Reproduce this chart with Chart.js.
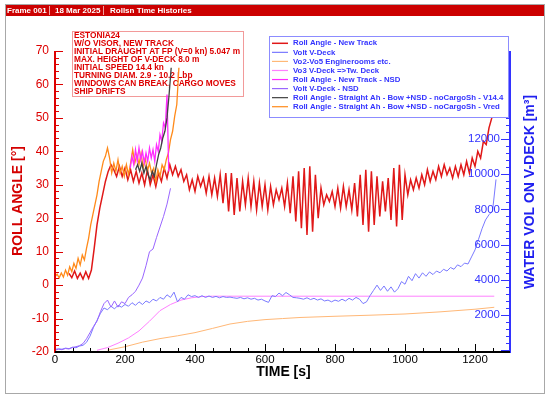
<!DOCTYPE html>
<html>
<head>
<meta charset="utf-8">
<script src="https://cdn.jsdelivr.net/npm/chart.js@4.4.0/dist/chart.umd.min.js"></script>
<style>
  html, body { margin: 0; padding: 0; background: #fff; }
  #c { display: block; }
</style>
</head>
<body>
<canvas id="c" width="550" height="399"></canvas>
<script>
/* ── Roll / water volume time histories ─────────────── */

const FONT = '"Liberation Sans", Arial, sans-serif';

// ── Data ───────────────────────────────────────────
// roll angle series (left axis, deg), sampled from t0 every dt seconds
const RED_T0 = 40, RED_DT = 8;
const rollNewTrack = [
  3.5, 2.2, 4.2, 2.0, 3.6, 1.8, 4.0, 2.0, 4.5, 11,
  18, 23, 27, 31, 34, 36, 34.5, 32.5, 35.5, 32.5,
  35, 31.5, 34.5, 31, 34, 30.5, 33.5, 30, 34.5, 30,
  33, 29.5, 33.5, 31, 35, 32, 36, 33, 35.5, 32.5,
  34.5, 31, 33, 28.5, 31.5, 28, 32.5, 29.5, 32, 27.5,
  32.5, 27, 32, 26.5, 33, 24.5, 33.5, 22, 33.5, 21,
  32, 22, 31, 24, 32, 23.5, 31, 22.5, 30.5, 23.5,
  30, 22.5, 29.5, 24, 28.5, 25.5, 29, 23.5, 30.5, 21.5,
  32.5, 19, 34, 17, 35, 15, 35.5, 16, 33, 20,
  29, 24, 27, 25, 28, 23.5, 29, 23, 29.5, 23.5,
  28.5, 22.5, 30.5, 20.5, 33, 18, 34.5, 16, 34, 18,
  32.5, 20.5, 31, 22, 32, 19.5, 35, 17.5, 36, 19.5,
  33, 27, 31.5, 28.5, 32, 29, 33, 30, 34.5, 31,
  34, 31.5, 35.5, 32.5, 36, 33, 35, 32, 35.5, 32.5,
  36, 33, 37, 33.5, 38, 35.5, 40, 38, 43, 42,
  47, 50, 54, 58
];

const VRED_T0 = 0, VRED_DT = 6;
const rollVred = [
  2.5, 3.3, 2.2, 3.6, 2.4, 4.5, 3.0, 5.5, 4.0, 6.5,
  5.0, 8.0, 6.0, 9.0, 7.5, 11, 14, 18, 21, 24,
  27, 31, 34, 37, 38.5, 41, 38, 33.5, 36.5, 34,
  37.5, 33.5, 35.5, 32.5, 36, 33, 36.5, 40.5, 36.5, 39,
  36, 39.5, 35, 38, 34, 36.5, 33.5, 35, 31, 34.5,
  32.5, 36, 34.5, 37.5, 39.5, 43.5, 46, 50.5, 54, 65
];

const V144_T0 = 230, V144_DT = 6;
const rollV144 = [
  34.5, 36, 34, 36.5, 33.5, 35.5, 33, 31.5, 34, 32.5,
  36, 39, 41, 44, 46, 50, 57, 65
];

const NSD_T0 = 215, NSD_DT = 5;
const rollNsd = [
  35, 38.5, 36, 40.5, 37, 41, 37.5, 40, 36.5, 39.5,
  37, 41, 38, 40.5, 37, 42, 40, 45, 43, 48.5,
  47, 57, 34
];

// water volume series (right axis, m3)
const VOL_T0 = 0, VOL_DT = 10;
const volVdeck = [
  50, 80, 60, 120, 90, 170, 140, 240, 280, 450,
  800, 1300, 1700, 2100, 2400, 2300, 2500, 2350, 2550, 2450,
  2600, 2500, 2700, 2550, 2750, 2600, 2800, 2700, 2900, 2800,
  3000, 2900, 3150, 3000, 3300, 2750, 3000, 2900, 3150, 3050,
  3100, 3000, 3100, 3000, 3080, 3000, 3060, 2980, 3050, 3000,
  3020, 2980, 2950, 3000, 2920, 2980, 2900, 2950, 2850, 2900,
  2800, 2720, 3100, 3050, 3250, 3100, 3280, 3150, 3000, 2980,
  2950, 2900, 2980, 2880, 2950, 2850, 2920, 2800, 2850, 2750,
  2850, 2780, 2900, 2800, 2950, 2850, 3000, 2900, 2650, 2750,
  3100, 3400, 3700, 3400, 3650, 3350, 3600, 3300, 3500, 3900,
  3750, 4200, 3950, 4350, 4100, 4400, 4200, 4450, 4300, 4500,
  4400, 4600, 4500, 4700, 4600, 4850, 4750, 4950, 4900, 5300,
  5700, 6300, 6900, 7400, 7700, 7900, 9700
];

const volVdeckNsd = [
  0, 60, 30, 100, 70, 160, 200, 260, 380, 650,
  1000, 1350, 1650, 2200, 2650, 2850, 2450, 2800, 2450, 2750,
  2650, 3000, 3150, 3350, 3700, 4100, 4800, 5600, 5750, 6400,
  7000, 7600, 8300, 9200
];

const vo3Time = [120, 150, 180, 210, 240, 270, 300, 330, 360, 390, 420, 450, 1255];
const vo3Vol  = [0, 150, 400, 700, 1100, 1650, 2250, 2600, 2850, 2980, 3050, 3070, 3070];

const engTime = [150, 200, 250, 300, 350, 400, 450, 500, 550, 600, 650, 700, 800, 900, 1000, 1100, 1200, 1255];
const engVol  = [0, 200, 460, 660, 820, 1000, 1240, 1490, 1640, 1740, 1800, 1860, 1930, 1990, 2060, 2180, 2330, 2440];

// axes
const RIGHT_TICKS = [2000, 4000, 6000, 8000, 10000, 12000, 14000, 16000];

const LEGEND_LABELS = [
  "Roll Angle - New Track",
  "Volt V-Deck",
  "Vo2-Vo5 Enginerooms etc.",
  "Vo3 V-Deck =>Tw. Deck",
  "Roll Angle - New Track - NSD",
  "Volt V-Deck - NSD",
  "Roll Angle - Straight Ah - Bow +NSD - noCargoSh - V14.4",
  "Roll Angle - Straight Ah - Bow +NSD - noCargoSh - Vred",
];

const NOTE_LINES = [
  "ESTONIA24",
  "W/O VISOR, NEW TRACK",
  "INITIAL DRAUGHT AT FP (V=0 kn) 5.047 m",
  "MAX. HEIGHT OF V-DECK 8.0 m",
  "INITIAL SPEED 14.4 kn",
  "TURNING DIAM. 2.9 - 10.2 Lbp",
  "WINDOWS CAN BREAK, CARGO MOVES",
  "SHIP DRIFTS",
];

const HEADER_PARTS = ["Frame 001", "18 Mar 2025", "Rollsn Time Histories"];

// ── Colours ────────────────────────────────────────
const C_RED = "#e01818", C_BLUE = "#7a7aff", C_LORANGE = "#ffb877", C_PINK = "#ff80ff";
const C_MAGENTA = "#ff2cff", C_PURPLE = "#9a66ff", C_BLACK = "#404040", C_ORANGE = "#ff8a1a";
const LEGEND_COLORS = [C_RED, C_BLUE, C_LORANGE, C_PINK, C_MAGENTA, C_PURPLE, C_BLACK, C_ORANGE];
const AXIS_RED = "#dd0000", AXIS_BLUE = "#3333ff";

// ── Helpers ────────────────────────────────────────
function stepped(t0, dt, vals) { return vals.map((v, i) => ({ x: t0 + i * dt, y: v })); }
function paired(ts, vals) { return vals.map((v, i) => ({ x: ts[i], y: v })); }
function ds(label, data, color, axis, width, order) {
  return { label, data, borderColor: color, backgroundColor: color, yAxisID: axis,
           borderWidth: width, pointRadius: 0, tension: 0, order };
}

// ── Decorations: frame, note box, ticks, titles, legend ──
const deco = {
  id: "deco",
  beforeDraw(chart) {
    const c = chart.ctx;
    c.save();
    c.fillStyle = "#fff"; c.fillRect(0, 0, 550, 399);
    c.strokeStyle = "#a8a8a8"; c.lineWidth = 1;
    c.strokeRect(5.5, 4.5, 539, 389);
    c.fillStyle = "#cc0000"; c.fillRect(6, 5, 538, 11);
    c.font = "bold 8px " + FONT; c.fillStyle = "#fff"; c.textBaseline = "middle";
    const hx = [7, 55, 110];
    HEADER_PARTS.forEach((s, i) => c.fillText(s, hx[i], 10.8));
    c.strokeStyle = "#f0a0a0";
    [49.5, 103.5].forEach(x => { c.beginPath(); c.moveTo(x, 6); c.lineTo(x, 15); c.stroke(); });
    c.restore();
  },
  beforeDatasetsDraw(chart) {
    const c = chart.ctx;
    c.save();
    c.strokeStyle = "#f29a9a"; c.lineWidth = 1;
    c.strokeRect(72.5, 31.5, 171, 65);
    c.font = "bold 8.3px " + FONT; c.fillStyle = "#dd0000"; c.textBaseline = "middle";
    NOTE_LINES.forEach((s, i) => c.fillText(s, 74, 36 + i * 8));
    c.restore();
  },
  afterDatasetsDraw(chart) {
    const c = chart.ctx, a = chart.chartArea;
    const sx = chart.scales.x, sy = chart.scales.y, sr = chart.scales.y2;
    c.save();
    c.lineWidth = 1;
    // left axis ticks (inward)
    c.strokeStyle = AXIS_RED;
    for (let v = -20; v <= 70; v += 2) {
      const y = Math.round(sy.getPixelForValue(v)) + 0.5, len = v % 10 === 0 ? 8 : 4;
      c.beginPath(); c.moveTo(a.left, y); c.lineTo(a.left + len, y); c.stroke();
    }
    // bottom axis ticks
    c.strokeStyle = "#000";
    for (let t = 0; t <= 1300; t += 50) {
      const x = Math.round(sx.getPixelForValue(t)) + 0.5, len = t % 200 === 0 ? 8 : 4;
      c.beginPath(); c.moveTo(x, a.bottom); c.lineTo(x, a.bottom - len); c.stroke();
    }
    // right axis ticks and labels
    c.strokeStyle = AXIS_BLUE;
    for (let v = 0; v <= 17000; v += 400) {
      const y = Math.round(sr.getPixelForValue(v)) + 0.5, len = v % 2000 === 0 ? 9 : 4;
      c.beginPath(); c.moveTo(a.right, y); c.lineTo(a.right - len, y); c.stroke();
    }
    c.font = "11.5px " + FONT; c.fillStyle = AXIS_BLUE;
    c.textAlign = "right"; c.textBaseline = "middle";
    RIGHT_TICKS.forEach(v => c.fillText(String(v), a.right - 10, sr.getPixelForValue(v)));
    // axis lines
    c.lineWidth = 2;
    c.strokeStyle = AXIS_RED;
    c.beginPath(); c.moveTo(a.left, a.top); c.lineTo(a.left, a.bottom + 1); c.stroke();
    c.strokeStyle = AXIS_BLUE;
    c.beginPath(); c.moveTo(a.right, a.top); c.lineTo(a.right, a.bottom + 1); c.stroke();
    c.strokeStyle = "#000";
    c.beginPath(); c.moveTo(a.left, a.bottom); c.lineTo(a.right, a.bottom); c.stroke();
    // axis titles
    c.font = "bold 14px " + FONT; c.textAlign = "center"; c.textBaseline = "middle";
    c.fillStyle = "#000"; c.fillText("TIME [s]", 283.5, 372);
    c.save(); c.translate(18, 201); c.rotate(-Math.PI / 2);
    c.fillStyle = "#d40000"; c.fillText("ROLL ANGLE [°]", 0, 0); c.restore();
    c.save(); c.translate(530, 192); c.rotate(-Math.PI / 2);
    c.fillStyle = "#2020f0"; c.fillText("WATER VOL ON V-DECK [m³]", 0, 0); c.restore();
    // legend
    c.fillStyle = "#fff"; c.fillRect(269, 36, 240, 82);
    c.lineWidth = 1; c.strokeStyle = "#8c8cff"; c.strokeRect(269.5, 36.5, 239, 81);
    c.font = "bold 7.8px " + FONT; c.textAlign = "left"; c.fillStyle = AXIS_BLUE;
    LEGEND_LABELS.forEach((s, i) => {
      const y = 43.3 + i * 9.06;
      c.strokeStyle = LEGEND_COLORS[i]; c.lineWidth = i === 0 ? 1.5 : 1.2;
      c.beginPath(); c.moveTo(272, y); c.lineTo(288, y); c.stroke();
      c.fillText(s, 293, y);
    });
    c.restore();
  }
};

// ── Chart ──────────────────────────────────────────
Chart.defaults.font.family = FONT;

new Chart(document.getElementById("c"), {
  type: "line",
  data: {
    datasets: [
      ds(LEGEND_LABELS[0], stepped(RED_T0, RED_DT, rollNewTrack), C_RED, "y", 1.5, 3),
      ds(LEGEND_LABELS[1], stepped(VOL_T0, VOL_DT, volVdeck), C_BLUE, "y2", 1, 5),
      ds(LEGEND_LABELS[2], paired(engTime, engVol), C_LORANGE, "y2", 1, 7),
      ds(LEGEND_LABELS[3], paired(vo3Time, vo3Vol), C_PINK, "y2", 1, 6),
      ds(LEGEND_LABELS[4], stepped(NSD_T0, NSD_DT, rollNsd), C_MAGENTA, "y", 1.3, 1),
      ds(LEGEND_LABELS[5], stepped(VOL_T0, VOL_DT, volVdeckNsd), C_PURPLE, "y2", 1, 4),
      ds(LEGEND_LABELS[6], stepped(V144_T0, V144_DT, rollV144), C_BLACK, "y", 1.3, 0),
      ds(LEGEND_LABELS[7], stepped(VRED_T0, VRED_DT, rollVred), C_ORANGE, "y", 1.3, 2),
    ],
  },
  options: {
    responsive: false,
    animation: false,
    layout: { padding: { top: 51, right: 40, left: 0, bottom: 0 } },
    plugins: { legend: { display: false }, tooltip: { enabled: false } },
    scales: {
      x: {
        type: "linear", min: 0, max: 1300,
        afterFit(s) { s.height = 47; },
        grid: { display: false, drawTicks: false }, border: { display: false },
        ticks: { stepSize: 200, includeBounds: false, padding: 1, color: "#000", font: { size: 11.5 },
                 callback: v => String(v) },
      },
      y: {
        type: "linear", position: "left", min: -20, max: 70,
        afterFit(s) { s.width = 55; },
        grid: { display: false, drawTicks: false }, border: { display: false },
        ticks: { stepSize: 10, padding: 6, color: AXIS_RED, font: { size: 12 } },
      },
      y2: { type: "linear", position: "right", min: -100, max: 17000, display: false },
    },
  },
  plugins: [deco],
});
</script>
</body>
</html>
